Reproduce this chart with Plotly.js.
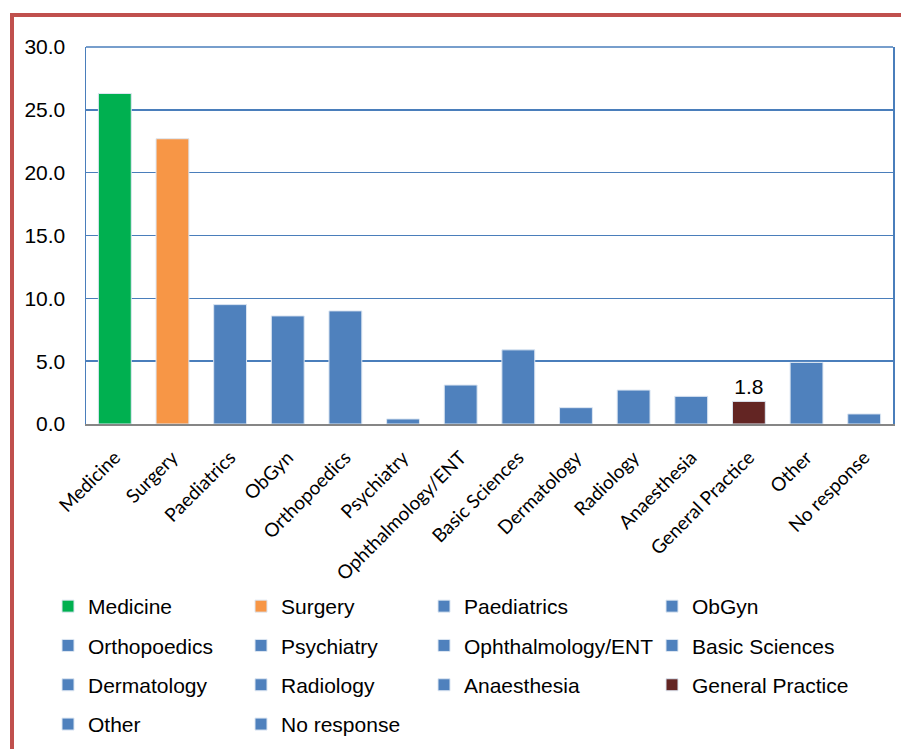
<!DOCTYPE html>
<html>
<head>
<meta charset="utf-8">
<script src="https://cdn.plot.ly/plotly-3.0.1.min.js"></script>
<style>
  html, body { margin: 0; padding: 0; background: #ffffff; }
  #chart { position: absolute; left: 0; top: 0; width: 901px; height: 749px; }
  #frame { position: absolute; left: 10px; top: 13px; width: 900px; height: 740px;
           border-left: 4px solid #c0504d; border-top: 4px solid #c0504d; pointer-events: none; }
</style>
</head>
<body>
<div id="chart"></div>
<div id="frame"></div>
<script>
const categories = ["Medicine", "Surgery", "Paediatrics", "ObGyn", "Orthopoedics", "Psychiatry",
  "Ophthalmology/ENT", "Basic Sciences", "Dermatology", "Radiology", "Anaesthesia",
  "General Practice", "Other", "No response"];
const values = [26.3, 22.7, 9.5, 8.6, 9.0, 0.4, 3.1, 5.9, 1.3, 2.7, 2.2, 1.8, 4.9, 0.8];
const colors = ["#00b050", "#f79646", "#4f81bd", "#4f81bd", "#4f81bd", "#4f81bd", "#4f81bd",
  "#4f81bd", "#4f81bd", "#4f81bd", "#4f81bd", "#632523", "#4f81bd", "#4f81bd"];
const labelledCategory = "General Practice";
const yTicks = [0, 5, 10, 15, 20, 25, 30];

const legendNames = ["legend", "legend2", "legend3", "legend4"];

const traces = categories.map((c, i) => ({
  type: "bar",
  x: [c],
  y: [values[i]],
  name: c,
  legend: legendNames[i % 4],
  legendgroup: "g" + i,
  marker: { color: colors[i], line: { color: "#dce6f2", width: 1 } },
  text: c === labelledCategory ? [values[i].toFixed(1)] : [""],
  textposition: "outside",
  cliponaxis: false,
  textfont: { family: "Liberation Sans, Arial, sans-serif", size: 21, color: "#000" },
  hoverinfo: "x+y"
}));

const legendFont = { family: "Liberation Sans, Arial, sans-serif", size: 21, color: "#000" };
const W = 807, H = 377;
function lg(px, py) {
  return { x: (px - 86) / W, y: (424 - py) / H, xanchor: "left", yanchor: "top",
    orientation: "v", font: legendFont, traceorder: "grouped", tracegroupgap: 9,
    bgcolor: "rgba(0,0,0,0)", borderwidth: 0 };
}

const layout = {
  width: 901, height: 749,
  margin: { l: 86, r: 8, t: 47, b: 325, autoexpand: false },
  paper_bgcolor: "#ffffff",
  plot_bgcolor: "#ffffff",
  barmode: "overlay",
  bargap: 0.43,
  showlegend: true,
  legend: lg(48, 586),
  legend2: lg(241, 586),
  legend3: lg(424, 586),
  legend4: lg(652, 586),
  xaxis: {
    type: "category",
    categoryorder: "array",
    categoryarray: categories,
    tickangle: -45,
    tickfont: { family: "Lato, Carlito, Calibri, sans-serif", size: 19, color: "#000" },
    showline: true, linecolor: "#868686", linewidth: 2,
    showgrid: false, ticks: "", ticklabelstandoff: 13,
    automargin: false,
    fixedrange: true
  },
  yaxis: {
    range: [0, 30],
    tickvals: yTicks,
    tickformat: ".1f",
    tickfont: { family: "Liberation Sans, Arial, sans-serif", size: 21, color: "#000" },
    showgrid: true, gridcolor: "#4a7ebb", gridwidth: 1.5,
    showline: true, linecolor: "#4a7ebb", linewidth: 1.5, mirror: true,
    zeroline: false, ticks: "", ticklabelstandoff: 15,
    automargin: false,
    fixedrange: true
  },
  shapes: [{
    type: "line", xref: "paper", yref: "paper", x0: 0, x1: 1, y0: 1, y1: 1,
    line: { color: "#4a7ebb", width: 1.5 }, layer: "above"
  }],
  font: { family: "Liberation Sans, Arial, sans-serif", color: "#000" }
};

Plotly.newPlot("chart", traces, layout, { displayModeBar: false, staticPlot: true });
</script>
</body>
</html>
